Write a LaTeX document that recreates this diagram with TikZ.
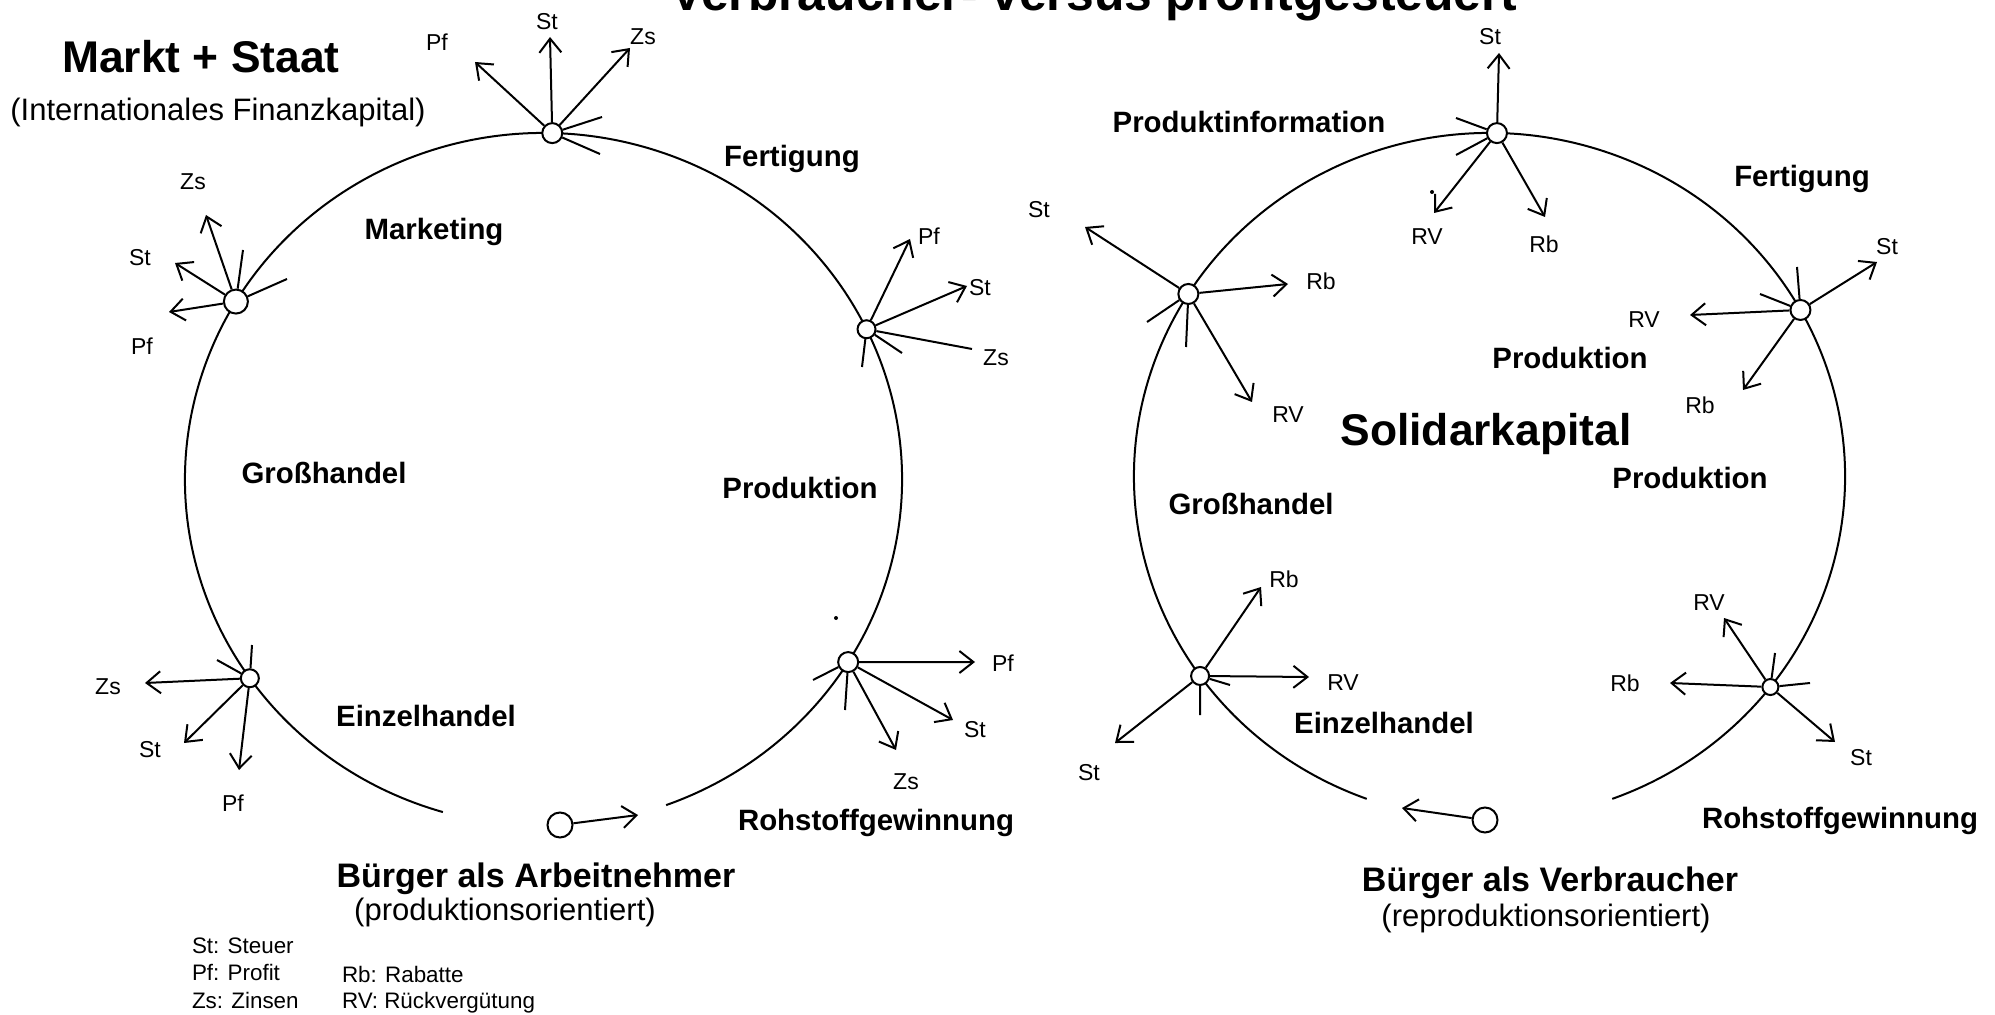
\documentclass[tikz,border=0pt]{standalone}
\usepackage{fontspec}
\setmainfont{Liberation Sans}
\usetikzlibrary{arrows.meta}
\begin{document}
\begin{tikzpicture}[x=0.5pt,y=-0.5pt,
  line width=1pt,
  pt/.style={circle,draw,fill=white,minimum size=10pt,inner sep=0pt},
  person/.style={circle,draw,fill=white,minimum size=12.5pt,inner sep=0pt},
  arr/.style={-{Straight Barb[length=7pt,width=11pt]}},
  lbl/.style={font=\fontsize{11.5}{13}\selectfont,inner sep=0pt},
  leg/.style={font=\fontsize{11.2}{13}\selectfont,inner sep=0pt,anchor=base west},
  region/.style={font=\bfseries\fontsize{14.7}{17}\selectfont,inner sep=0pt,anchor=base},
  big/.style={font=\bfseries\fontsize{22.2}{26}\selectfont,inner sep=0pt,anchor=base},
  citizen/.style={font=\bfseries\fontsize{17}{20}\selectfont,inner sep=0pt,anchor=base},
  sub/.style={font=\fontsize{15.5}{18}\selectfont,inner sep=0pt,anchor=base},
]
\useasboundingbox (0,0) rectangle (1995,1015);
\clip (0,0) rectangle (1995,1015);
\fill[white] (0,0) rectangle (1995,1015);

% title (cut off at the top)
\node[font=\bfseries\fontsize{24.9}{28}\selectfont,anchor=base,inner sep=0pt] (title) at (1094,11) {Verbraucher- versus profitgesteuert};

% ================= LEFT =================
\coordinate (LC) at (543.5,479.5);
\draw (LC) ++(106.3:358.5 and 346.5) coordinate (LA)
  arc[start angle=106.3,end angle=430,x radius=358.5,y radius=346.5];

\path (LC) ++(271.4:358.5 and 346.5) node[pt] (LT) {};
\path (LC) ++(210.9:358.5 and 346.5) node[pt,minimum size=12pt] (LUL) {};
\path (LC) ++(334.3:358.5 and 346.5) node[pt,minimum size=9pt] (LUR) {};
\path (LC) ++(31.8:358.5 and 346.5) node[pt] (LLR) {};
\path (LC) ++(145:358.5 and 346.5) node[pt,minimum size=9pt] (LLL) {};

% top node
\coordinate (LTst) at (550,37);  \draw[arr] (LT) -- (LTst);
\coordinate (LTzs) at (630,48);  \draw[arr] (LT) -- (LTzs);
\coordinate (LTpf) at (475,62);  \draw[arr] (LT) -- (LTpf);
\coordinate (LTa) at (602,117);  \draw (LT) -- (LTa);
\coordinate (LTb) at (600,154);  \draw (LT) -- (LTb);
\node[lbl] (LTstl) at (547,22) {St};
\node[lbl] (LTzsl) at (643,37) {Zs};
\node[lbl] (LTpfl) at (437,42) {Pf};

% upper left node
\coordinate (LULzs) at (206,215); \draw[arr] (LUL) -- (LULzs);
\coordinate (LULst) at (175,263); \draw[arr] (LUL) -- (LULst);
\coordinate (LULpf) at (169,312); \draw[arr] (LUL) -- (LULpf);
\coordinate (LULa) at (243,250);  \draw (LUL) -- (LULa);
\coordinate (LULb) at (287,279);  \draw (LUL) -- (LULb);
\node[lbl] (LULzsl) at (193,182) {Zs};
\node[lbl] (LULstl) at (140,258) {St};
\node[lbl] (LULpfl) at (142,346) {Pf};

% upper right node
\coordinate (LURpf) at (910,239); \draw[arr] (LUR) -- (LURpf);
\coordinate (LURst) at (967,286); \draw[arr] (LUR) -- (LURst);
\coordinate (LURzs) at (972,349); \draw (LUR) -- (LURzs);
\coordinate (LURa) at (902,353);  \draw (LUR) -- (LURa);
\coordinate (LURb) at (862,367);  \draw (LUR) -- (LURb);
\node[lbl] (LURpfl) at (929,236) {Pf};
\node[lbl] (LURstl) at (980,288) {St};
\node[lbl] (LURzsl) at (996,358) {Zs};

% lower right node
\coordinate (LLRpf) at (975,662); \draw[arr] (LLR) -- (LLRpf);
\coordinate (LLRst) at (953,720); \draw[arr] (LLR) -- (LLRst);
\coordinate (LLRzs) at (896,750); \draw[arr] (LLR) -- (LLRzs);
\coordinate (LLRa) at (845,710);  \draw (LLR) -- (LLRa);
\coordinate (LLRb) at (813,680);  \draw (LLR) -- (LLRb);
\node[lbl] (LLRpfl) at (1003,663) {Pf};
\node[lbl] (LLRstl) at (975,730) {St};
\node[lbl] (LLRzsl) at (906,782) {Zs};
\fill (836,618) circle[radius=2];

% lower left node
\coordinate (LLLzs) at (145,683); \draw[arr] (LLL) -- (LLLzs);
\coordinate (LLLst) at (184,743); \draw[arr] (LLL) -- (LLLst);
\coordinate (LLLpf) at (239,770); \draw[arr] (LLL) -- (LLLpf);
\coordinate (LLLa) at (252,645);  \draw (LLL) -- (LLLa);
\coordinate (LLLb) at (217,660);  \draw (LLL) -- (LLLb);
\node[lbl] (LLLzsl) at (108,687) {Zs};
\node[lbl] (LLLstl) at (150,750) {St};
\node[lbl] (LLLpfl) at (233,803) {Pf};

% citizen
\node[person] (LP) at (560,825) {};
\coordinate (LPt) at (638,815); \draw[arr] (LP) -- (LPt);

% texts
\node[big] (markt) at (201,73) {Markt + Staat};
\node[sub] (intl) at (218,121) {(Internationales Finanzkapital)};
\node[region] (Lfert) at (792,167) {Fertigung};
\node[region] (Lmark) at (434,240) {Marketing};
\node[region] (Lgross) at (324,483) {Großhandel};
\node[region] (Lprod) at (800,499) {Produktion};
\node[region] (Leinz) at (426,726) {Einzelhandel};
\node[region] (Lroh) at (876,830) {Rohstoffgewinnung};
\node[citizen] (Lbuerg) at (536,887) {Bürger als Arbeitnehmer};
\node[sub] (Lorient) at (505,920) {(produktionsorientiert)};

% legend
\node[leg] (leg1) at (191,953) {St: Steuer};
\node[leg] (leg2) at (191,980) {Pf: Profit};
\node[leg] (leg3) at (191,1008) {Zs: Zinsen};
\node[leg] (leg4) at (341,982) {Rb: Rabatte};
\node[leg] (leg5) at (341,1008) {RV: Rückvergütung};

% ================= RIGHT =================
\coordinate (RC) at (1489.5,476.5);
\draw (RC) ++(110.2:355.5 and 343.5) coordinate (RA)
  arc[start angle=110.2,end angle=429.8,x radius=355.5,y radius=343.5];

\path (RC) ++(271.2:355.5 and 343.5) node[pt] (RT) {};
\path (RC) ++(212.1:355.5 and 343.5) node[pt] (RUL) {};
\path (RC) ++(331:355.5 and 343.5) node[pt] (RUR) {};
\path (RC) ++(37.8:355.5 and 343.5) node[pt,minimum size=8pt] (RLR) {};
\path (RC) ++(144.5:355.5 and 343.5) node[pt,minimum size=9pt] (RLL) {};

% top node
\coordinate (RTst) at (1499,53);  \draw[arr] (RT) -- (RTst);
\coordinate (RTrv) at (1434,213); \draw[arr] (RT) -- (RTrv);
\coordinate (RTrb) at (1545,217); \draw[arr] (RT) -- (RTrb);
\coordinate (RTa) at (1456,118);  \draw (RT) -- (RTa);
\coordinate (RTb) at (1456,155);  \draw (RT) -- (RTb);
\node[lbl] (RTstl) at (1490,37) {St};
\node[lbl] (RTrvl) at (1427,237) {RV};
\node[lbl] (RTrbl) at (1544,244) {Rb};
\fill (1432,192) circle[radius=2];

% upper left node
\coordinate (RULst) at (1085,227); \draw[arr] (RUL) -- (RULst);
\coordinate (RULrb) at (1288,284); \draw[arr] (RUL) -- (RULrb);
\coordinate (RULrv) at (1252,402); \draw[arr] (RUL) -- (RULrv);
\coordinate (RULa) at (1147,322);  \draw (RUL) -- (RULa);
\coordinate (RULb) at (1186,347);  \draw (RUL) -- (RULb);
\node[lbl] (RULstl) at (1039,210) {St};
\node[lbl] (RULrbl) at (1321,281) {Rb};
\node[lbl] (RULrvl) at (1288,415) {RV};

% upper right node
\coordinate (RURst) at (1877,262); \draw[arr] (RUR) -- (RURst);
\coordinate (RURrv) at (1690,315); \draw[arr] (RUR) -- (RURrv);
\coordinate (RURrb) at (1743,390); \draw[arr] (RUR) -- (RURrb);
\coordinate (RURa) at (1797,267);  \draw (RUR) -- (RURa);
\coordinate (RURb) at (1760,294);  \draw (RUR) -- (RURb);
\node[lbl] (RURstl) at (1887,247) {St};
\node[lbl] (RURrvl) at (1644,320) {RV};
\node[lbl] (RURrbl) at (1700,405) {Rb};

% lower left node
\coordinate (RLLrb) at (1261,587); \draw[arr] (RLL) -- (RLLrb);
\coordinate (RLLrv) at (1309,677); \draw[arr] (RLL) -- (RLLrv);
\coordinate (RLLst) at (1115,743); \draw[arr] (RLL) -- (RLLst);
\coordinate (RLLa) at (1200,715);  \draw (RLL) -- (RLLa);
\coordinate (RLLb) at (1230,685);  \draw (RLL) -- (RLLb);
\node[lbl] (RLLrbl) at (1284,579) {Rb};
\node[lbl] (RLLrvl) at (1343,683) {RV};
\node[lbl] (RLLstl) at (1089,773) {St};

% lower right node
\coordinate (RLRrv) at (1724,618); \draw[arr] (RLR) -- (RLRrv);
\coordinate (RLRrb) at (1670,683); \draw[arr] (RLR) -- (RLRrb);
\coordinate (RLRst) at (1835,742); \draw[arr] (RLR) -- (RLRst);
\coordinate (RLRa) at (1775,653);  \draw (RLR) -- (RLRa);
\coordinate (RLRb) at (1810,683);  \draw (RLR) -- (RLRb);
\node[lbl] (RLRrvl) at (1709,603) {RV};
\node[lbl] (RLRrbl) at (1625,683) {Rb};
\node[lbl] (RLRstl) at (1861,758) {St};

% citizen
\node[person] (RP) at (1485,820) {};
\coordinate (RPt) at (1402,808); \draw[arr] (RP) -- (RPt);

% texts
\node[region] (Rinfo) at (1249,133) {Produktinformation};
\node[region] (Rfert) at (1802,187) {Fertigung};
\node[region] (Rprod1) at (1570,369) {Produktion};
\node[big] (solid) at (1486,445) {Solidarkapital};
\node[region] (Rprod2) at (1690,488) {Produktion};
\node[region] (Rgross) at (1251,515) {Großhandel};
\node[region] (Reinz) at (1384,733) {Einzelhandel};
\node[region] (Rroh) at (1840,828) {Rohstoffgewinnung};
\node[citizen] (Rbuerg) at (1550,891) {Bürger als Verbraucher};
\node[sub] (Rorient) at (1546,926) {(reproduktionsorientiert)};
\end{tikzpicture}
\end{document}
